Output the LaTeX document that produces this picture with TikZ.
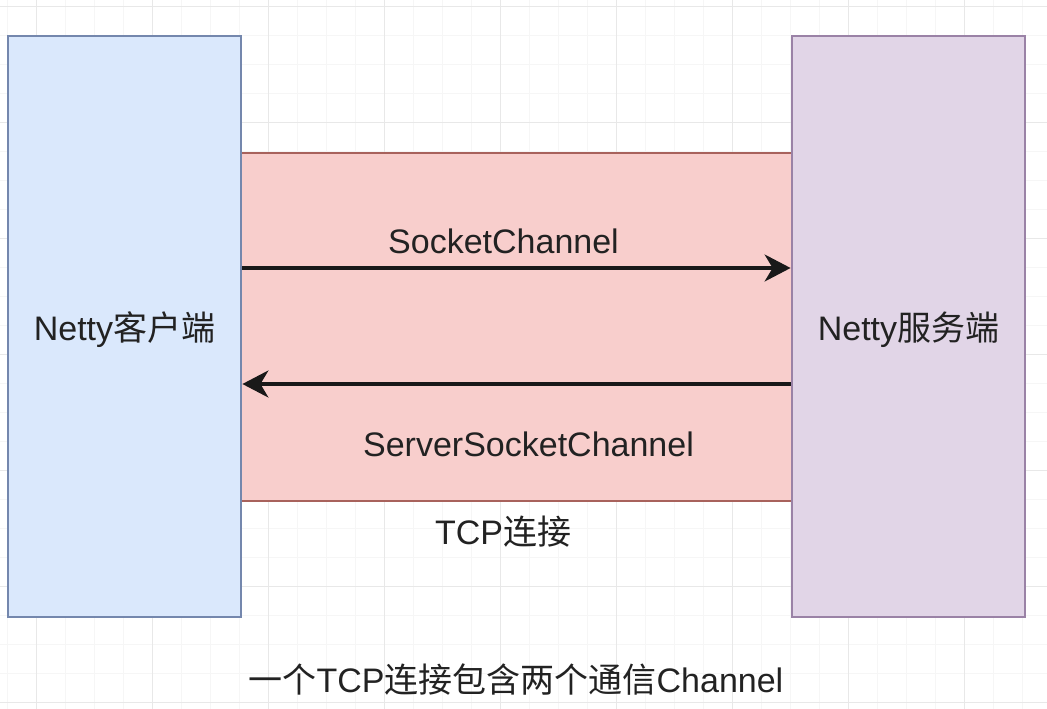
\documentclass[tikz,border=0pt]{standalone}
\usepackage{fontspec}
\setmainfont{Liberation Sans}
\newfontfamily\cjk{Noto Sans CJK SC}
\usetikzlibrary{arrows.meta}
\definecolor{gridmin}{HTML}{F6F6F6}
\definecolor{gridmaj}{HTML}{E8E8E8}
\definecolor{bluefill}{HTML}{DAE8FC}
\definecolor{blueline}{HTML}{7487AD}
\definecolor{purpfill}{HTML}{E1D5E7}
\definecolor{purpline}{HTML}{9A82A6}
\definecolor{pinkfill}{HTML}{F8CECC}
\definecolor{pinkline}{HTML}{A8625C}
\definecolor{txt}{HTML}{222222}
\tikzset{
  x=1pt, y=-1pt,
  lbl/.style={text=txt, font=\fontsize{34}{40}\selectfont, inner sep=0pt},
  endbox/.style={draw, line width=2.8pt, minimum width=233pt, minimum height=581pt, inner sep=0pt},
  arr/.style={line width=3.2pt, draw=black!90, -{Stealth[length=26pt, width=27pt, inset=8pt]}},
}
\begin{document}
\begin{tikzpicture}
\useasboundingbox (0,0) rectangle (1047,709);
\fill[white] (0,0) rectangle (1047,709);
% grid
\foreach \i in {0,...,36} {
  \draw[gridmin, line width=1pt] ({7.6+29*\i},0) -- ({7.6+29*\i},709);
}
\foreach \i in {0,...,24} {
  \draw[gridmin, line width=1pt] (0,{6.7+29*\i}) -- (1047,{6.7+29*\i});
}
\foreach \i in {0,...,9} {
  \draw[gridmaj, line width=1.2pt] ({36.6+116*\i},0) -- ({36.6+116*\i},709);
}
\foreach \i in {0,...,6} {
  \draw[gridmaj, line width=1.2pt] (0,{6.7+116*\i}) -- (1047,{6.7+116*\i});
}
% TCP connection band
\node[draw=pinkline, fill=pinkfill, line width=2.8pt, minimum width=551pt, minimum height=348pt, inner sep=0pt] (tcp) at (516.5,327) {};
% end boxes
\node[endbox, draw=blueline, fill=bluefill] (client) at (124.5,326.5) {};
\node[endbox, draw=purpline, fill=purpfill] (server) at (908.5,326.5) {};
\node[lbl] (clientlbl) at (124.5,330) {Netty{\cjk 客户端}};
\node[lbl] (serverlbl) at (908.5,330) {Netty{\cjk 服务端}};
% channels
\coordinate (upper) at (516.5,268);
\coordinate (lower) at (516.5,384);
\draw[arr] (client.east |- upper) -- (server.west |- upper);
\draw[arr] (server.west |- lower) -- (client.east |- lower);
\node[lbl] (sc) at (503.5,241) {SocketChannel};
\node[lbl] (ssc) at (528.5,444) {ServerSocketChannel};
\node[lbl] (tcplbl) at (503,532) {TCP{\cjk 连接}};
\node[lbl] (caption) at (516,680) {{\cjk 一个}TCP{\cjk 连接包含两个通信}Channel};
\end{tikzpicture}
\end{document}
